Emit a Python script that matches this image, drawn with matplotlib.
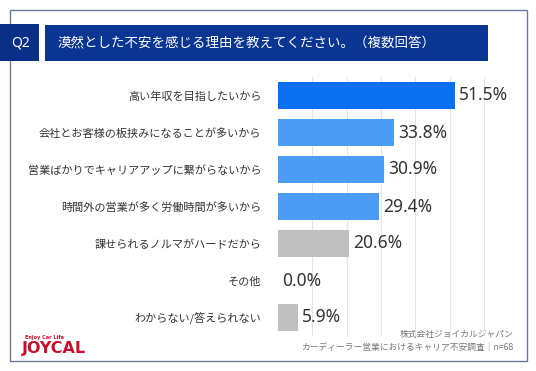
"""Q2: reasons for vague career anxiety among car dealer sales staff (multiple answers)"""
import matplotlib.pyplot as plt
from matplotlib.patches import Rectangle

plt.rcParams['font.family'] = ['Noto Sans CJK JP', 'DejaVu Sans']

categories = [
    "高い年収を目指したいから",
    "会社とお客様の板挟みになることが多いから",
    "営業ばかりでキャリアアップに繋がらないから",
    "時間外の営業が多く労働時間が多いから",
    "課せられるノルマがハードだから",
    "その他",
    "わからない/答えられない",
]
values = [51.5, 33.8, 30.9, 29.4, 20.6, 0.0, 5.9]
bar_colors = ["#0a6ff0", "#4a9cf5", "#4a9cf5", "#4a9cf5", "#bfbfbf", "#bfbfbf", "#bfbfbf"]

title = "漠然とした不安を感じる理由を教えてください。（複数回答）"
source_lines = ["株式会社ジョイカルジャパン", "カーディーラー営業におけるキャリア不安調査｜n=68"]

W, H = 536, 371
fig = plt.figure(figsize=(W / 100, H / 100), dpi=100)

# background layer in pixel coordinates (frame, header, footer)
bg = fig.add_axes([0, 0, 1, 1], zorder=0)
bg.set_xlim(0, W)
bg.set_ylim(H, 0)
bg.axis("off")

bg.add_patch(Rectangle((9.5, 9.5), 517.5, 351.5, fill=False, edgecolor="#6b7d96", lw=1.0))
bg.add_patch(Rectangle((0, 24), 39, 37, facecolor="#0a2f86", edgecolor="none"))
bg.add_patch(Rectangle((45, 25), 443, 36, facecolor="#0a3592", edgecolor="none"))
bg.text(20, 43, "Q2", color="white", fontsize=10, ha="center", va="center",
        family=["Noto Sans", "DejaVu Sans"])
bg.text(57, 43, title, color="white", fontsize=9.7, ha="left", va="center")

bg.text(513, 335, source_lines[0], color="#777777", fontsize=6.3, ha="right", va="center")
bg.text(513, 347, source_lines[1], color="#777777", fontsize=6.3, ha="right", va="center")

# logo approximation
bg.text(25, 338, "Enjoy Car Life", color="#c8102e", fontsize=3.6, ha="left", va="center",
        fontweight="bold", family=["DejaVu Sans"])
bg.text(22, 348, "JOYCAL", color="#c8102e", fontsize=11.5, ha="left", va="center",
        fontweight="heavy", family=["DejaVu Sans"])

# bar chart
ax = fig.add_axes([278 / W, (H - 336) / H, 223 / W, 259 / H], zorder=1)
ax.patch.set_alpha(0)
ypos = range(len(categories))
ax.barh(ypos, values, height=0.73, color=bar_colors, zorder=2)
ax.set_xlim(0, 65)
ax.set_ylim(len(categories) - 0.5, -0.5)
ax.set_xticks([10, 20, 30, 40, 50, 60])
ax.set_xticklabels([])
ax.grid(axis="x", color="#e4e4e4", lw=0.8, zorder=0)
ax.tick_params(axis="x", length=0)
ax.set_yticks(list(ypos))
ax.set_yticklabels(categories, fontsize=8.0, color="#333333")
ax.tick_params(axis="y", length=0, pad=12)
for s in ax.spines.values():
    s.set_visible(False)

for i, v in enumerate(values):
    ax.text(v + 1.2, i, f"{v:.1f}%", va="center", ha="left", fontsize=12.5,
            color="#333333", family=["Noto Sans", "DejaVu Sans"])

fig.savefig("out.png", dpi=100)
